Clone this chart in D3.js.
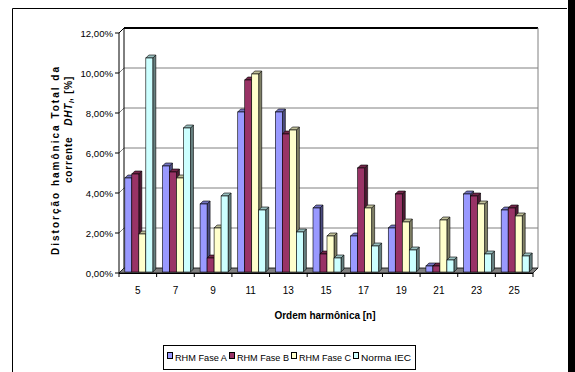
<!DOCTYPE html>
<html><head><meta charset="utf-8">
<script src="https://cdn.jsdelivr.net/npm/d3@7"></script>
<style>
html,body{margin:0;padding:0;background:#fff;}
svg{display:block;}
text{font-family:"Liberation Sans",Arial,sans-serif;}
</style></head>
<body>
<svg id="chart" width="575" height="372"></svg>
<script>
const categories = ["5","7","9","11","13","15","17","19","21","23","25"];
const seriesNames = ["RHM Fase A","RHM Fase B","RHM Fase C","Norma IEC"];
const faseA = [4.7,5.3,3.4,8.0,8.0,3.2,1.8,2.2,0.3,3.9,3.1];
const faseB = [4.9,5.0,0.7,9.6,6.9,0.9,5.2,3.9,0.3,3.8,3.2];
const faseC = [1.9,4.7,2.2,9.9,7.1,1.8,3.2,2.5,2.6,3.4,2.8];
const normaIEC = [10.7,7.2,3.8,3.1,2.0,0.7,1.3,1.1,0.6,0.9,0.8];
const yTicks = [0,2,4,6,8,10,12];
const frontColors = ["#9999FF","#993366","#FFFFCC","#CCFFFF"];
const sideColors = ["#4D4D80","#4D1A33","#808066","#668080"];
const topColors = ["#7373BF","#732649","#BFBF99","#99BFBF"];

const seriesValues = [faseA, faseB, faseC, normaIEC];
const svg = d3.select("#chart");

// outer frame
svg.append("line").attr("x1",12.5).attr("y1",8.5).attr("x2",567).attr("y2",8.5).attr("stroke","#000").attr("stroke-width",1);
svg.append("line").attr("x1",12.5).attr("y1",8.5).attr("x2",12.5).attr("y2",372).attr("stroke","#000").attr("stroke-width",1);
svg.append("rect").attr("x",568).attr("y",0).attr("width",7).attr("height",372).attr("fill","#000");

const DX = 5, DY = -5; // full depth offset
const y = d3.scaleLinear().domain([0,12]).range([273,33]);
const x = d3.scaleBand().domain(categories).range([119,533]).padding(0);
const groupW = 28;
const xs = d3.scaleBand().domain(seriesNames).range([0,groupW]).padding(0);

const g = svg.append("g");

// back wall gridlines
yTicks.forEach(v=>{
  if(v===0) return;
  const yb = y(v)+DY;
  g.append("line").attr("x1",119+DX).attr("x2",533+DX).attr("y1",yb).attr("y2",yb)
    .attr("stroke", v===12 ? "#000" : "#808080").attr("stroke-width", v===12 ? 2 : 1);
  g.append("line").attr("x1",119).attr("y1",y(v)).attr("x2",119+DX).attr("y2",yb)
    .attr("stroke", v===12 ? "#000" : "#808080").attr("stroke-width",1);
});
g.append("line").attr("x1",119+DX).attr("x2",119+DX).attr("y1",y(0)+DY).attr("y2",y(12)+DY).attr("stroke","#000").attr("stroke-width",1);
g.append("line").attr("x1",533+DX).attr("x2",533+DX).attr("y1",y(0)+DY).attr("y2",y(12)+DY).attr("stroke","#808080").attr("stroke-width",1);

// floor
g.append("polygon")
  .attr("points",[[119,y(0)],[533,y(0)],[533+DX,y(0)+DY],[119+DX,y(0)+DY]].map(p=>p.join(",")).join(" "))
  .attr("fill","#808080").attr("stroke","#000").attr("stroke-width",0.8);

// front y axis
g.append("line").attr("x1",119).attr("x2",119).attr("y1",y(0)).attr("y2",y(12)).attr("stroke","#000");
yTicks.forEach(v=>{
  g.append("line").attr("x1",115).attr("x2",119).attr("y1",y(v)).attr("y2",y(v)).attr("stroke","#000");
  g.append("text").attr("x",113).attr("y",y(v)+3.5).attr("text-anchor","end")
    .attr("font-size","9.6px").attr("fill","#000")
    .text(v.toFixed(2).replace(".",",")+"%");
});
// x axis ticks and labels
g.append("line").attr("x1",119).attr("x2",533).attr("y1",y(0)+0.5).attr("y2",y(0)+0.5).attr("stroke","#000");
categories.forEach((c,i)=>{
  const xb = x(c);
  g.append("line").attr("x1",xb).attr("x2",xb).attr("y1",y(0)).attr("y2",y(0)+4).attr("stroke","#000");
  g.append("text").attr("x",xb+x.bandwidth()/2).attr("y",294).attr("text-anchor","middle")
    .attr("font-size","10px").attr("fill","#000").text(c);
});
g.append("line").attr("x1",533).attr("x2",533).attr("y1",y(0)).attr("y2",y(0)+4).attr("stroke","#000");

// bars
const bd0 = 0.2, bdepth = 0.6;
const offX0 = DX*bd0, offY0 = DY*bd0, bdx = DX*bdepth, bdy = DY*bdepth;
const bw = xs.bandwidth();
categories.forEach((c,i)=>{
  seriesNames.forEach((s,j)=>{
    const v = seriesValues[j][i];
    const x0 = x(c) + (x.bandwidth()-groupW)/2 + xs(s) + offX0;
    const x1 = x0 + bw;
    const yt = y(v) + offY0, yb = y(0) + offY0;
    const bg = g.append("g");
    bg.append("polygon").attr("points",[[x1,yt],[x1+bdx,yt+bdy],[x1+bdx,yb+bdy],[x1,yb]].map(p=>p.join(",")).join(" "))
      .attr("fill",sideColors[j]).attr("stroke","#000").attr("stroke-width",0.6).attr("stroke-linejoin","round");
    bg.append("polygon").attr("points",[[x0,yt],[x0+bdx,yt+bdy],[x1+bdx,yt+bdy],[x1,yt]].map(p=>p.join(",")).join(" "))
      .attr("fill",topColors[j]).attr("stroke","#000").attr("stroke-width",0.6).attr("stroke-linejoin","round");
    bg.append("rect").attr("x",x0).attr("y",yt).attr("width",bw).attr("height",yb-yt)
      .attr("fill",frontColors[j]).attr("stroke","#000").attr("stroke-width",0.6);
  });
});

// axis titles
svg.append("text").attr("transform","translate(59,161) rotate(-90)")
  .attr("text-anchor","middle").attr("font-size","10px").attr("font-weight","bold")
  .attr("textLength",188).attr("lengthAdjust","spacing").text("Distorção hamônica Total da");
const t2 = svg.append("text").attr("transform","translate(72,183) rotate(-90)")
  .attr("text-anchor","start").attr("font-size","10px").attr("font-weight","bold");
t2.append("tspan").attr("letter-spacing","0.8px").text("corrente\u00A0\u00A0\u00A0");
t2.append("tspan").attr("font-style","italic").attr("letter-spacing","0.8px").text("DHT");
t2.append("tspan").attr("font-style","italic").attr("font-size","7px").attr("dy",2).text("I");
t2.append("tspan").attr("dy",-2).attr("letter-spacing","0.8px").text(", [%]");

svg.append("text").attr("x",325).attr("y",319).attr("text-anchor","middle")
  .attr("font-size","10px").attr("font-weight","bold").text("Ordem harmônica [n]");

// legend
const lg = svg.append("g");
lg.append("rect").attr("x",163.5).attr("y",345.5).attr("width",252).attr("height",24)
  .attr("fill","#fff").attr("stroke","#000").attr("stroke-width",1);
const legX = [167, 229, 291, 353];
seriesNames.forEach((s,j)=>{
  lg.append("rect").attr("x",legX[j]+0.5).attr("y",352.5).attr("width",5).attr("height",6)
    .attr("fill",frontColors[j]).attr("stroke","#000").attr("stroke-width",1);
  lg.append("text").attr("x",legX[j]+8).attr("y",360.5).attr("font-size","9.5px")
    .attr("textLength",j===3 ? 50 : 52).attr("lengthAdjust","spacingAndGlyphs").text(s);
});
</script>
</body></html>
